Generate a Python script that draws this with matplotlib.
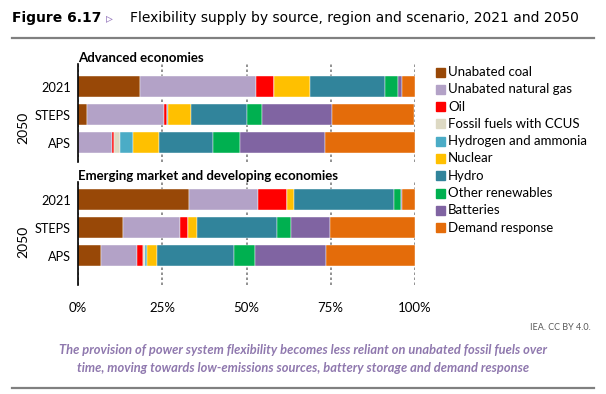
import matplotlib
matplotlib.use("Agg")
import matplotlib.pyplot as plt
from matplotlib.patches import Rectangle
from matplotlib.lines import Line2D

# Data (shares in %)
scenarios = ["2021", "STEPS", "APS"]
sources = [
    "Unabated coal",
    "Unabated natural gas",
    "Oil",
    "Fossil fuels with CCUS",
    "Hydrogen and ammonia",
    "Nuclear",
    "Hydro",
    "Other renewables",
    "Batteries",
    "Demand response",
]
# one row per source: [2021, STEPS, APS]
adv_values = [
    [18.3, 2.7, 0.0],
    [34.4, 22.7, 10.1],
    [5.6, 0.9, 0.5],
    [0.0, 0.0, 2.0],
    [0.0, 0.5, 3.8],
    [10.6, 6.7, 7.5],
    [22.3, 16.6, 16.2],
    [3.8, 4.4, 7.9],
    [1.0, 20.8, 25.4],
    [4.0, 24.5, 26.5],
]
emde_values = [
    [33.0, 13.4, 6.7],
    [20.3, 16.8, 10.7],
    [8.7, 2.5, 1.9],
    [0.0, 0.0, 0.6],
    [0.0, 0.0, 0.7],
    [2.1, 2.7, 2.7],
    [29.8, 23.6, 22.9],
    [2.0, 4.3, 6.4],
    [0.3, 11.4, 21.1],
    [3.8, 25.4, 26.3],
]
xticks = [0, 25, 50, 75, 100]
xtick_labels = ["0%", "25%", "50%", "75%", "100%"]

colors = ["#984807", "#b3a2c7", "#ff0000", "#ddd9c3", "#4bacc6",
          "#ffc000", "#31849b", "#00b050", "#8064a2", "#e46c0a"]

W, H = 606, 394
plt.rcParams["font.family"] = ["Lato", "DejaVu Sans"]
fig = plt.figure(figsize=(W / 100, H / 100), dpi=100)


def px_axes(left, top, right, bottom):
    return fig.add_axes([left / W, 1 - bottom / H, (right - left) / W, (bottom - top) / H])


def draw_panel(ax, values, title, ylim, show_xlabels):
    y = range(len(scenarios))
    left = [0.0] * len(scenarios)
    for vals, color in zip(values, colors):
        ax.barh(y, vals, left=left, height=0.75, color=color,
                edgecolor="white", linewidth=0.3, zorder=2)
        left = [l + v for l, v in zip(left, vals)]
    ax.set_xlim(0, 100)
    ax.set_ylim(*ylim)
    ax.set_yticks(list(y))
    ax.set_yticklabels(scenarios, fontsize=9.2)
    ax.set_xticks(xticks)
    if show_xlabels:
        ax.set_xticklabels(xtick_labels, fontsize=9.5)
    else:
        ax.set_xticklabels([])
    ax.tick_params(axis="y", length=0, pad=5)
    ax.tick_params(axis="x", length=0, pad=12)
    for side in ["top", "right", "bottom"]:
        ax.spines[side].set_visible(False)
    ax.spines["left"].set_linewidth(1.2)
    ax.spines["left"].set_zorder(3)
    ax.grid(axis="x", color="#7f7f7f", linestyle=(0, (1.5, 1.5)), linewidth=1.2, zorder=0)
    ax.set_axisbelow(True)
    ax.set_title(title, loc="left", fontsize=9.5, fontweight="bold", pad=1, x=0.0)


ax1 = px_axes(78, 64, 415, 162)
draw_panel(ax1, adv_values, "Advanced economies", (2.68, -0.80), False)
ax2 = px_axes(78, 182, 415, 285)
draw_panel(ax2, emde_values, "Emerging market and developing economies", (3.04, -0.64), True)

# 2050 group labels
fig.text(23 / W, 1 - 128 / H, "2050", rotation=90, ha="center", va="center", fontsize=10)
fig.text(23 / W, 1 - 242 / H, "2050", rotation=90, ha="center", va="center", fontsize=10)

# legend
for i, (name, color) in enumerate(zip(sources, colors)):
    yc = 72 + i * 17.3
    fig.patches.append(Rectangle((436 / W, 1 - (yc + 4.5) / H), 9 / W, 9 / H,
                                 transform=fig.transFigure, color=color))
    fig.text(448 / W, 1 - yc / H, name, ha="left", va="center", fontsize=9.5)

# title
fig.text(12 / W, 1 - 18 / H, "Figure 6.17", fontsize=10, fontweight="bold",
         va="center", family=["DejaVu Sans"])
fig.text(106 / W, 1 - 18 / H, "\u25b9", fontsize=10, color="#9b7fc0", va="center",
         family=["DejaVu Sans"])
fig.text(130 / W, 1 - 18 / H, "Flexibility supply by source, region and scenario, 2021 and 2050",
         fontsize=10, va="center", family=["DejaVu Sans"])
fig.add_artist(Line2D([12 / W, 594 / W], [1 - 38 / H, 1 - 38 / H], color="#808080",
                      linewidth=1.6, transform=fig.transFigure))

# source & caption
fig.text(591 / W, 1 - 328 / H, "IEA. CC BY 4.0.", ha="right", va="center",
         fontsize=6.5, color="#595959")
fig.text(303 / W, 1 - 350 / H,
         "The provision of power system flexibility becomes less reliant on unabated fossil fuels over",
         ha="center", va="center", fontsize=9.3, style="italic", fontweight="bold", color="#8f78ae")
fig.text(303 / W, 1 - 368 / H,
         "time, moving towards low-emissions sources, battery storage and demand response",
         ha="center", va="center", fontsize=9.3, style="italic", fontweight="bold", color="#8f78ae")
fig.add_artist(Line2D([12 / W, 594 / W], [1 - 388 / H, 1 - 388 / H], color="#808080",
                      linewidth=1.6, transform=fig.transFigure))

fig.savefig("out.png", dpi=100)
